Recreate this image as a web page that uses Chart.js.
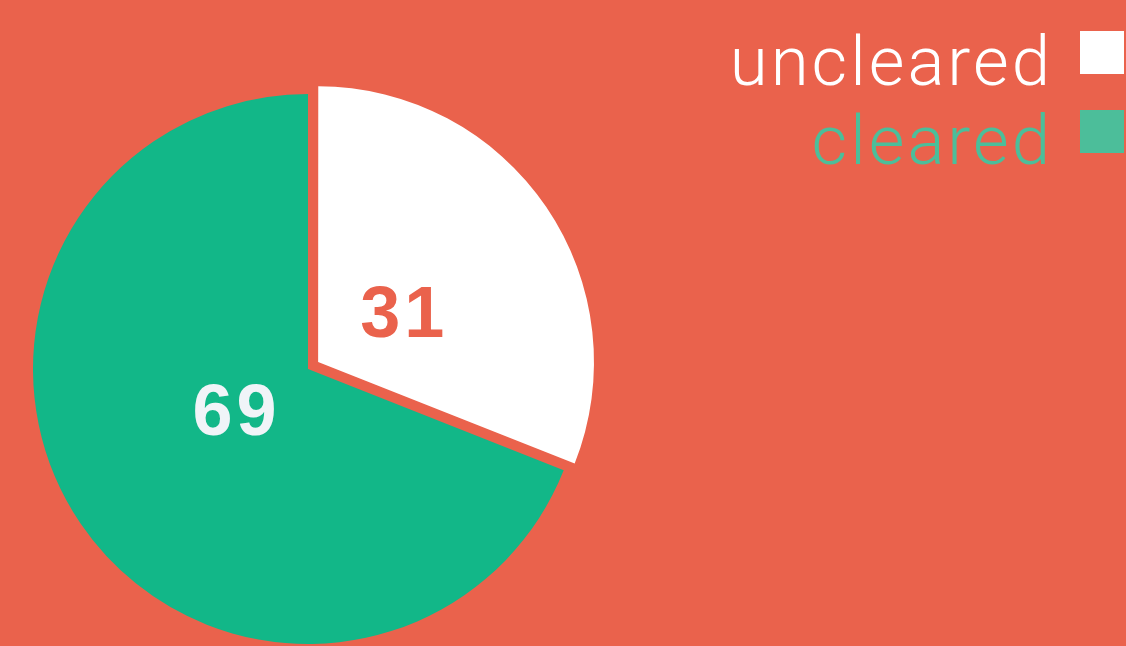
<!DOCTYPE html>
<html lang="en">
<head>
    <meta charset="UTF-8">
    <title>Cleared vs uncleared</title>
    <script src="https://cdn.jsdelivr.net/npm/chart.js"></script>
    <style>
        html, body { margin: 0; padding: 0; background: #EA624C; overflow: hidden; }
        #wrap { width: 1126px; height: 646px; position: relative; }
    </style>
</head>
<body>
    <div id="wrap"><canvas id="pieChart"></canvas></div>

    <script>
        // Chart data
        const labels = ['uncleared', 'cleared'];
        const values = [31, 69];
        const sliceColors = ['#FFFFFF', '#12B788'];
        const legendColors = ['#FFFFFF', '#4CBE9A'];
        const valueColors = ['#EA624C', '#F0F4F8'];
        const sliceOffsets = [49, 0];

        // Chart.js v4 moves an arc by offset/4 (plus a small fix), same as here
        function visualOffset(arc, i) {
            const fix = 1 - Math.sin(Math.min(Math.PI, arc.circumference || 0));
            return sliceOffsets[i] / 4 * (1 + fix);
        }

        // Draws the value labels inside the slices and the legend on the right
        const labelPlugin = {
            id: 'labelPlugin',
            afterDraw(chart) {
                const ctx = chart.ctx;
                const meta = chart.getDatasetMeta(0);
                ctx.save();

                // values inside slices
                ctx.font = 'bold 72px "Liberation Sans", Arial, sans-serif';
                ctx.letterSpacing = '4px';
                ctx.textAlign = 'center';
                ctx.textBaseline = 'middle';
                meta.data.forEach((arc, i) => {
                    const mid = (arc.startAngle + arc.endAngle) / 2;
                    const shift = visualOffset(arc, i);
                    const ox = arc.x + Math.cos(mid) * shift;
                    const oy = arc.y + Math.sin(mid) * shift;
                    const a = mid + 0.07;
                    const dist = arc.outerRadius * 0.33;
                    ctx.fillStyle = valueColors[i];
                    ctx.fillText(values[i], ox + Math.cos(a) * dist + 7, oy + Math.sin(a) * dist + 1);
                });

                // legend, text right aligned with box on the right
                ctx.font = '300 69px Roboto, "Noto Sans", sans-serif';
                ctx.letterSpacing = '3px';
                ctx.textAlign = 'right';
                ctx.textBaseline = 'alphabetic';
                labels.forEach((label, i) => {
                    const rowY = 31 + i * 79;
                    ctx.fillStyle = legendColors[i];
                    ctx.fillRect(1080, rowY, 44, 43);
                    ctx.fillText(label, 1053, rowY + 54);
                });
                ctx.restore();
            }
        };

        const ctx = document.getElementById('pieChart').getContext('2d');
        new Chart(ctx, {
            type: 'pie',
            data: {
                labels: labels,
                datasets: [{
                    data: values,
                    backgroundColor: sliceColors,
                    borderWidth: 0,
                    offset: sliceOffsets
                }]
            },
            options: {
                responsive: true,
                maintainAspectRatio: false,
                animation: false,
                radius: 275,
                layout: {
                    padding: { left: 0, right: 510, top: 92, bottom: 0 }
                },
                plugins: {
                    legend: { display: false },
                    tooltip: { enabled: false }
                }
            },
            plugins: [labelPlugin]
        });
    </script>
</body>
</html>
